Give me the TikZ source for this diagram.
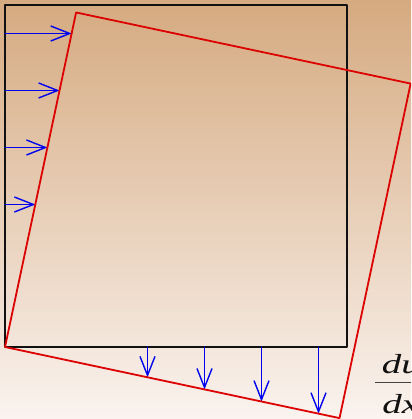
\documentclass[tikz,border=0pt]{standalone}
\usepackage{fontspec}
\setmainfont{Liberation Serif}
\usetikzlibrary{arrows.meta,calc}
\definecolor{sheetTop}{HTML}{D5AA80}
\definecolor{sheetBottom}{HTML}{FAF3EF}
\definecolor{frameInk}{HTML}{111111}
\definecolor{turnRed}{HTML}{DD0000}
\definecolor{loadBlue}{HTML}{0000F0}

\begin{document}
\begin{tikzpicture}[x=1pt,y=-1pt,>={Straight Barb[length=19pt,width=15pt]},line cap=round,line join=round]
\useasboundingbox (0,0) rectangle (411,419);
\clip (0,0) rectangle (411,419);
\shade[top color=sheetTop,bottom color=sheetBottom] (0,0) rectangle (411,419);
\tikzset{undeformed/.style={draw=frameInk,line width=2pt},rotated/.style={draw=turnRed,line width=1.8pt},load/.style={draw=loadBlue,line width=1.4pt,->},fracpart/.style={anchor=base west,inner sep=0pt,text=frameInk,xscale=1.42,transform shape,font=\fontsize{27.5}{30}\selectfont\itshape}}
% undeformed element
\coordinate (o) at (5,347); \coordinate (ul) at (5,5); \coordinate (lr) at (347,347);
\draw[undeformed] (ul) rectangle (lr);
% displacement arrows, left side and bottom side
\foreach \h in {142.5,199.5,256.5,313.5} {\draw[load] (5,347-\h) -- ({5+\h*tan(12)},347-\h); \draw[load] (5+\h,347) -- (5+\h,{347+\h*tan(12)});}
% element after rigid rotation
\coordinate (tl) at ({5+342*sin(12)},{347-342*cos(12)}); \coordinate (br) at ({5+342*cos(12)},{347+342*sin(12)});
\coordinate (tr) at ($(tl)+(br)-(o)$);
\draw[rotated] (o) -- (tl) -- (tr) -- (br) -- cycle;
% du/dx label, cut by the frame
\node[fracpart] (num) at (381.5,373.5) {du};
\node[fracpart] (den) at (382,413.3) {dx};
\draw[draw=frameInk!80,line width=1.3pt,line cap=butt] (375,382.3) -- (420,382.3);
\end{tikzpicture}
\end{document}
